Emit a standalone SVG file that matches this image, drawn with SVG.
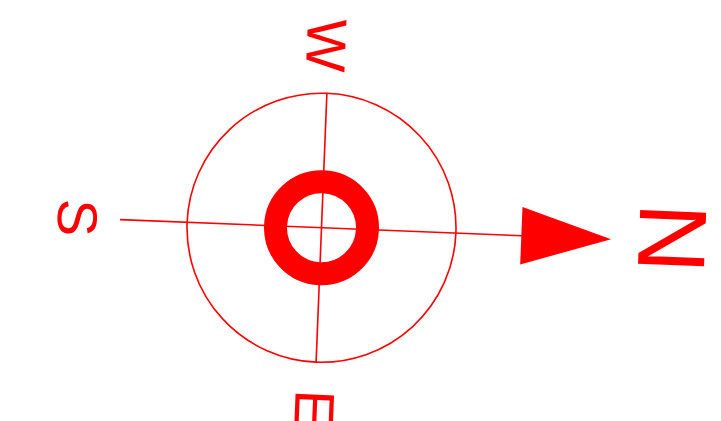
<svg xmlns="http://www.w3.org/2000/svg" width="721" height="421" viewBox="0 0 721 421">
<style>
.ln{stroke:#ff0000;stroke-width:1.6;fill:none}
.lbl{fill:#ff0000;font-family:"Liberation Sans",Arial,sans-serif;text-anchor:middle}
</style>
<rect width="721" height="421" fill="#ffffff"/>
<g id="compass" transform="translate(321.5,227.7) rotate(2.3)">
  <circle id="outer-ring" class="ln" cx="0" cy="0" r="134.5"/>
  <circle id="center-ring" cx="0" cy="0" r="46" fill="none" stroke="#ff0000" stroke-width="23"/>
  <g id="connectors">
    <line class="ln" x1="-201.6" y1="0" x2="201" y2="0"/>
    <line class="ln" x1="0" y1="-134.5" x2="0" y2="134.5"/>
  </g>
  <polygon id="north-arrow" points="200,-28.7 289.8,0 200,28.7" fill="#ff0000"/>
</g>
<g id="label-N"><text class="lbl" font-size="96" transform="translate(639,237) rotate(92.3)">N</text></g>
<g id="label-W"><text class="lbl" font-size="56" transform="translate(307,44.7) rotate(92.3)">W</text></g>
<g id="label-E"><text class="lbl" font-size="56" transform="translate(295,408) rotate(92.3)">E</text></g>
<g id="label-S"><text class="lbl" font-size="56" transform="translate(58,217) rotate(92.3)">S</text></g>
</svg>
